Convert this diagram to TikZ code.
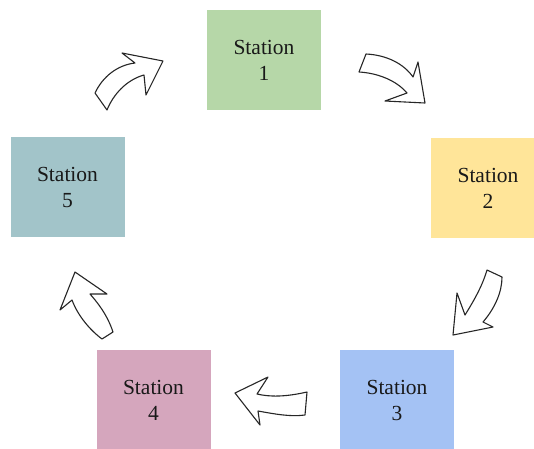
\documentclass[tikz,border=0pt]{standalone}
\usepackage{fontspec}
\setmainfont{Liberation Serif}
\definecolor{cgreen}{HTML}{B6D7A8}
\definecolor{cyellow}{HTML}{FFE599}
\definecolor{cblue}{HTML}{A4C2F4}
\definecolor{cpink}{HTML}{D5A6BD}
\definecolor{cteal}{HTML}{A2C4C9}
\tikzset{
  station/.style={rectangle, draw=none, minimum width=114pt, minimum height=100pt,
    align=center, inner sep=0pt, font=\fontsize{21.5}{26}\selectfont, text=black!90},
  blockarrow/.style={draw=black!85, fill=white, line width=1.1pt, line join=round}
}
\begin{document}
\begin{tikzpicture}[x=1pt,y=-1pt]
\useasboundingbox (0,0) rectangle (534,448);
\clip (0,0) rectangle (534,448);
\fill[white] (0,0) rectangle (534,448);
\node[station, fill=cgreen]  (s1) at (264,60)    {Station\\1};
\node[station, fill=cyellow] (s2) at (488,188)   {Station\\2};
\node[station, fill=cblue]   (s3) at (397,400)   {Station\\3};
\node[station, fill=cpink]   (s4) at (153.5,400) {Station\\4};
\node[station, fill=cteal]   (s5) at (67.5,187)  {Station\\5};
% arrow 5 -> 1
\draw[blockarrow] (95,93) .. controls (103,76) and (118,65) .. (135,63)
  -- (122,53) -- (163,61) -- (146,95) -- (144,75)
  .. controls (126,80) and (113,95) .. (107,110) -- cycle;
% arrow 1 -> 2
\draw[blockarrow] (366,54) .. controls (387,55) and (404,64) .. (413,77)
  -- (418,62) -- (425,103) -- (385,101) -- (407,93)
  .. controls (396,80) and (377,73) .. (359,72) -- cycle;
% arrow 2 -> 3
\draw[blockarrow] (487,270) .. controls (482,287) and (473,302) .. (465,315)
  -- (457,293) -- (453,335) -- (493,327) -- (483,322)
  .. controls (495,308) and (502,292) .. (502,277) -- cycle;
% arrow 3 -> 4
\draw[blockarrow] (307,392) .. controls (285,397) and (270,397) .. (257,394)
  -- (268,377) -- (235,393) -- (260,425) -- (258,411)
  .. controls (275,414) and (290,417) .. (305,415) -- cycle;
% arrow 4 -> 5
\draw[blockarrow] (113,332) .. controls (107,314) and (97,302) .. (90,294)
  -- (107,294) -- (75,272) -- (60,310) -- (72,300)
  .. controls (78,316) and (90,330) .. (102,339) -- cycle;
\end{tikzpicture}
\end{document}
